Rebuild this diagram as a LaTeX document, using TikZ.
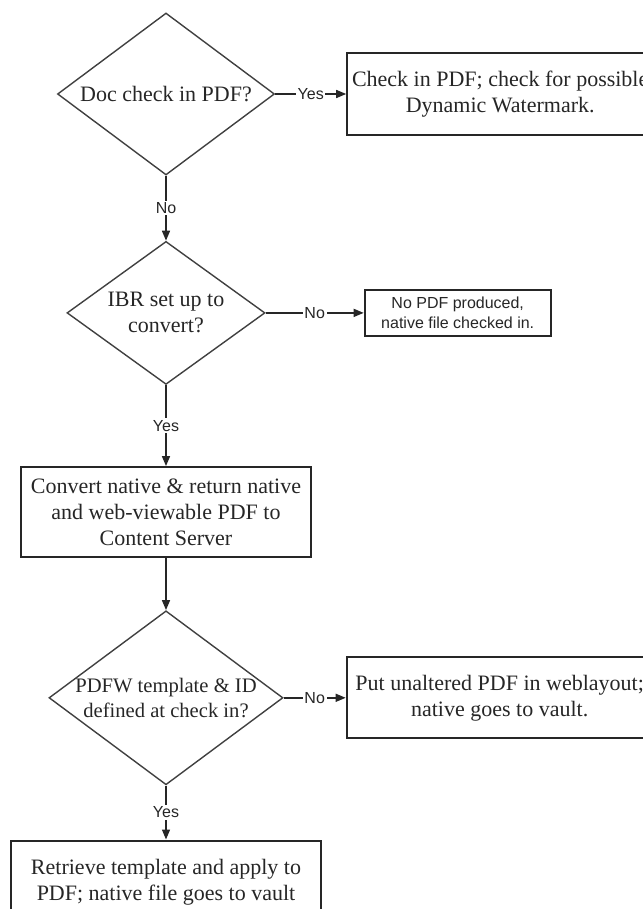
\documentclass[tikz,border=0pt]{standalone}
\usepackage{fontspec}
\setmainfont{Liberation Serif}
\newfontfamily\labelfont{Liberation Sans}
\usepackage{tikz}
\usetikzlibrary{shapes.geometric, arrows.meta, positioning}
\tikzstyle{decision} = [diamond, draw=black!75, line width=0.7pt, inner xsep=-20pt, inner ysep=0pt, align=center, text=black!85, font=\fontsize{11}{13}\selectfont]
\tikzstyle{block} = [rectangle, draw=black!85, line width=1pt, inner sep=2pt, align=center, text=black!85, font=\fontsize{11}{13}\selectfont]
\tikzstyle{note} = [block, font=\labelfont\fontsize{8}{10}\selectfont]
\tikzstyle{arrow} = [line width=0.7pt, draw=black!85, -{Triangle[length=5pt,width=4pt]}]
\tikzstyle{lbl} = [midway, fill=white, inner sep=0.8pt, text=black!85, font=\labelfont\fontsize{8}{9}\selectfont]

\begin{document}
\begin{tikzpicture}
    \useasboundingbox (-83pt,47pt) rectangle (238pt,-407.5pt);

    \node [decision, minimum width=108.5pt, minimum height=81pt] (pdfcheck) at (0,0) {Doc check in PDF?};
    \node [block, right=35.5pt of pdfcheck, minimum width=153pt, minimum height=41pt] (checkin) {Check in PDF; check for possible\\Dynamic Watermark.};

    \node [decision, below=32.5pt of pdfcheck, minimum width=99pt, minimum height=71.5pt] (ibr) {IBR set up to\\convert?};
    \node [note, right=49pt of ibr, minimum width=93pt, minimum height=23pt] (nopdf) {No PDF produced,\\native file checked in.};

    \node [block, below=40.5pt of ibr, minimum width=144.5pt, minimum height=45pt] (convert) {Convert native \& return native\\and web-viewable PDF to\\Content Server};

    \node [decision, below=26pt of convert, minimum width=117pt, minimum height=87pt, font=\fontsize{10.3}{12.5}\selectfont] (pdfw) {PDFW template \& ID\\defined at check in?};
    \node [block, right=31pt of pdfw, minimum width=153pt, minimum height=40.5pt] (unaltered) {Put unaltered PDF in weblayout;\\native goes to vault.};

    \node [block, below=27pt of pdfw, minimum width=154.5pt, minimum height=42pt] (retrieve) {Retrieve template and apply to\\PDF; native file goes to vault};

    \draw [arrow] (pdfcheck) -- node[lbl] {Yes} (checkin);
    \draw [arrow] (pdfcheck) -- node[lbl] {No} (ibr);
    \draw [arrow] (ibr) -- node[lbl] {No} (nopdf);
    \draw [arrow] (ibr) -- node[lbl] {Yes} (convert);
    \draw [arrow] (convert) -- (pdfw);
    \draw [arrow] (pdfw) -- node[lbl] {No} (unaltered);
    \draw [arrow] (pdfw) -- node[lbl] {Yes} (retrieve);
\end{tikzpicture}
\end{document}
